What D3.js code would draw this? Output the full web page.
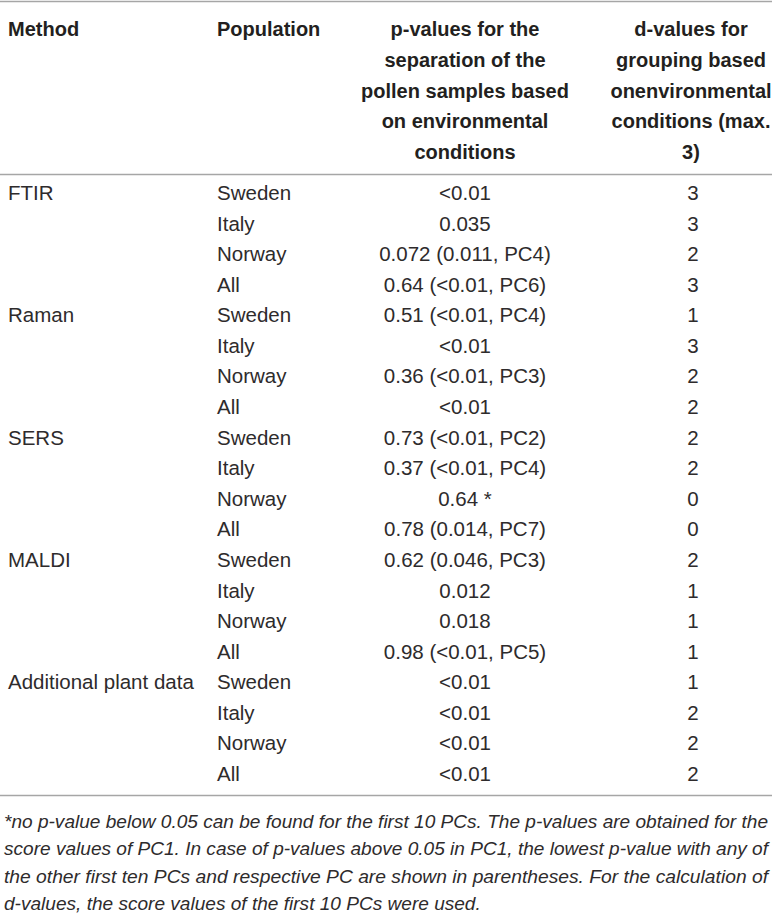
<!DOCTYPE html>
<html>
<head>
<meta charset="utf-8">
<script src="https://cdn.jsdelivr.net/npm/d3@7"></script>
<style>
  html, body { margin: 0; padding: 0; background: #fff; }
  svg { display: block; }
</style>
</head>
<body>
<svg id="tableCanvas" width="772" height="915"></svg>
<script>
// table content
const methods = ["FTIR", "Raman", "SERS", "MALDI", "Additional plant data"];
const populations = ["Sweden", "Italy", "Norway", "All"];
const pValues = [
    "<0.01", "0.035", "0.072 (0.011, PC4)", "0.64 (<0.01, PC6)",
    "0.51 (<0.01, PC4)", "<0.01", "0.36 (<0.01, PC3)", "<0.01",
    "0.73 (<0.01, PC2)", "0.37 (<0.01, PC4)", "0.64 *", "0.78 (0.014, PC7)",
    "0.62 (0.046, PC3)", "0.012", "0.018", "0.98 (<0.01, PC5)",
    "<0.01", "<0.01", "<0.01", "<0.01"
];
const dValues = [
    3, 3, 2, 3,
    1, 3, 2, 2,
    2, 2, 0, 0,
    2, 1, 1, 1,
    1, 2, 2, 2
];
const headMethod = ["Method"];
const headPopulation = ["Population"];
const headP = ["p-values for the", "separation of the", "pollen samples based", "on environmental", "conditions"];
const headD = ["d-values for", "grouping based", "onenvironmental", "conditions (max.", "3)"];
const footnote = [
    "*no p-value below 0.05 can be found for the first 10 PCs. The p-values are obtained for the",
    "score values of PC1. In case of p-values above 0.05 in PC1, the lowest p-value with any of",
    "the other first ten PCs and respective PC are shown in parentheses. For the calculation of",
    "d-values, the score values of the first 10 PCs were used."
];

const tableApp = {
    svg: null,
    font: "'Liberation Sans', Arial, sans-serif",
    ink: "#231f20",
    bodyInk: "#2e2b2c",

    init: function() {
        this.svg = d3.select("#tableCanvas");
        this.rows = [];
        methods.forEach((m, i) => {
            populations.forEach((p, j) => {
                const k = i * populations.length + j;
                this.rows.push({ method: j === 0 ? m : "", pop: p, p: pValues[k], d: dValues[k] });
            });
        });

        this.rowY = d3.scalePoint()
            .domain(d3.range(this.rows.length))
            .range([200, 781]);
        this.headY = d3.scalePoint()
            .domain(d3.range(headP.length))
            .range([36, 159]);
        this.footY = d3.scalePoint()
            .domain(d3.range(footnote.length))
            .range([828, 910]);

        this.drawRules();
        this.drawHeader();
        this.drawBody();
        this.drawFootnote();
    },

    drawRules: function() {
        this.svg.selectAll("line.rule")
            .data([1.5, 174.5, 795.5])
            .enter()
            .append("line")
            .attr("class", "rule")
            .attr("x1", 0)
            .attr("x2", 772)
            .attr("y1", d => d)
            .attr("y2", d => d)
            .attr("stroke", "#a6a6a6")
            .attr("stroke-width", 1.6);
    },

    headCol: function(lines, x, anchor) {
        this.svg.append("g")
            .selectAll("text")
            .data(lines)
            .enter()
            .append("text")
            .attr("x", x)
            .attr("y", (d, i) => this.headY(i))
            .attr("font-family", this.font)
            .attr("font-weight", "bold")
            .attr("font-size", "20px")
            .attr("fill", this.ink)
            .attr("text-anchor", anchor)
            .text(d => d);
    },

    drawHeader: function() {
        this.headCol(headMethod, 8, "start");
        this.headCol(headPopulation, 217, "start");
        this.headCol(headP, 465, "middle");
        this.headCol(headD, 691, "middle");
    },

    drawBody: function() {
        const cols = [
            { key: "method", x: 8, anchor: "start" },
            { key: "pop", x: 217, anchor: "start" },
            { key: "p", x: 465, anchor: "middle" },
            { key: "d", x: 693, anchor: "middle" }
        ];
        cols.forEach(c => {
            this.svg.append("g")
                .selectAll("text")
                .data(this.rows)
                .enter()
                .append("text")
                .attr("x", c.x)
                .attr("y", (d, i) => this.rowY(i))
                .attr("font-family", this.font)
                .attr("font-size", "20.5px")
                .attr("fill", this.bodyInk)
                .attr("text-anchor", c.anchor)
                .text(d => d[c.key]);
        });
    },

    drawFootnote: function() {
        const t = this.svg.append("g")
            .selectAll("text")
            .data(footnote)
            .enter()
            .append("text")
            .attr("x", 4)
            .attr("y", (d, i) => this.footY(i))
            .attr("font-family", this.font)
            .attr("font-style", "italic")
            .attr("font-size", "18px")
            .attr("fill", this.bodyInk)
            .text(d => d);
        // the first three lines run the full width, squeeze the last one by the same amount
        const full = t.nodes()[0].getComputedTextLength();
        const squeeze = 764 / full;
        t.each(function(d, i) {
            const w = this.getComputedTextLength();
            const target = i < footnote.length - 1 ? 764 : w * squeeze;
            d3.select(this)
                .attr("textLength", target)
                .attr("lengthAdjust", "spacingAndGlyphs");
        });
    }
};

window.onload = function() {
    tableApp.init();
};
</script>
</body>
</html>
